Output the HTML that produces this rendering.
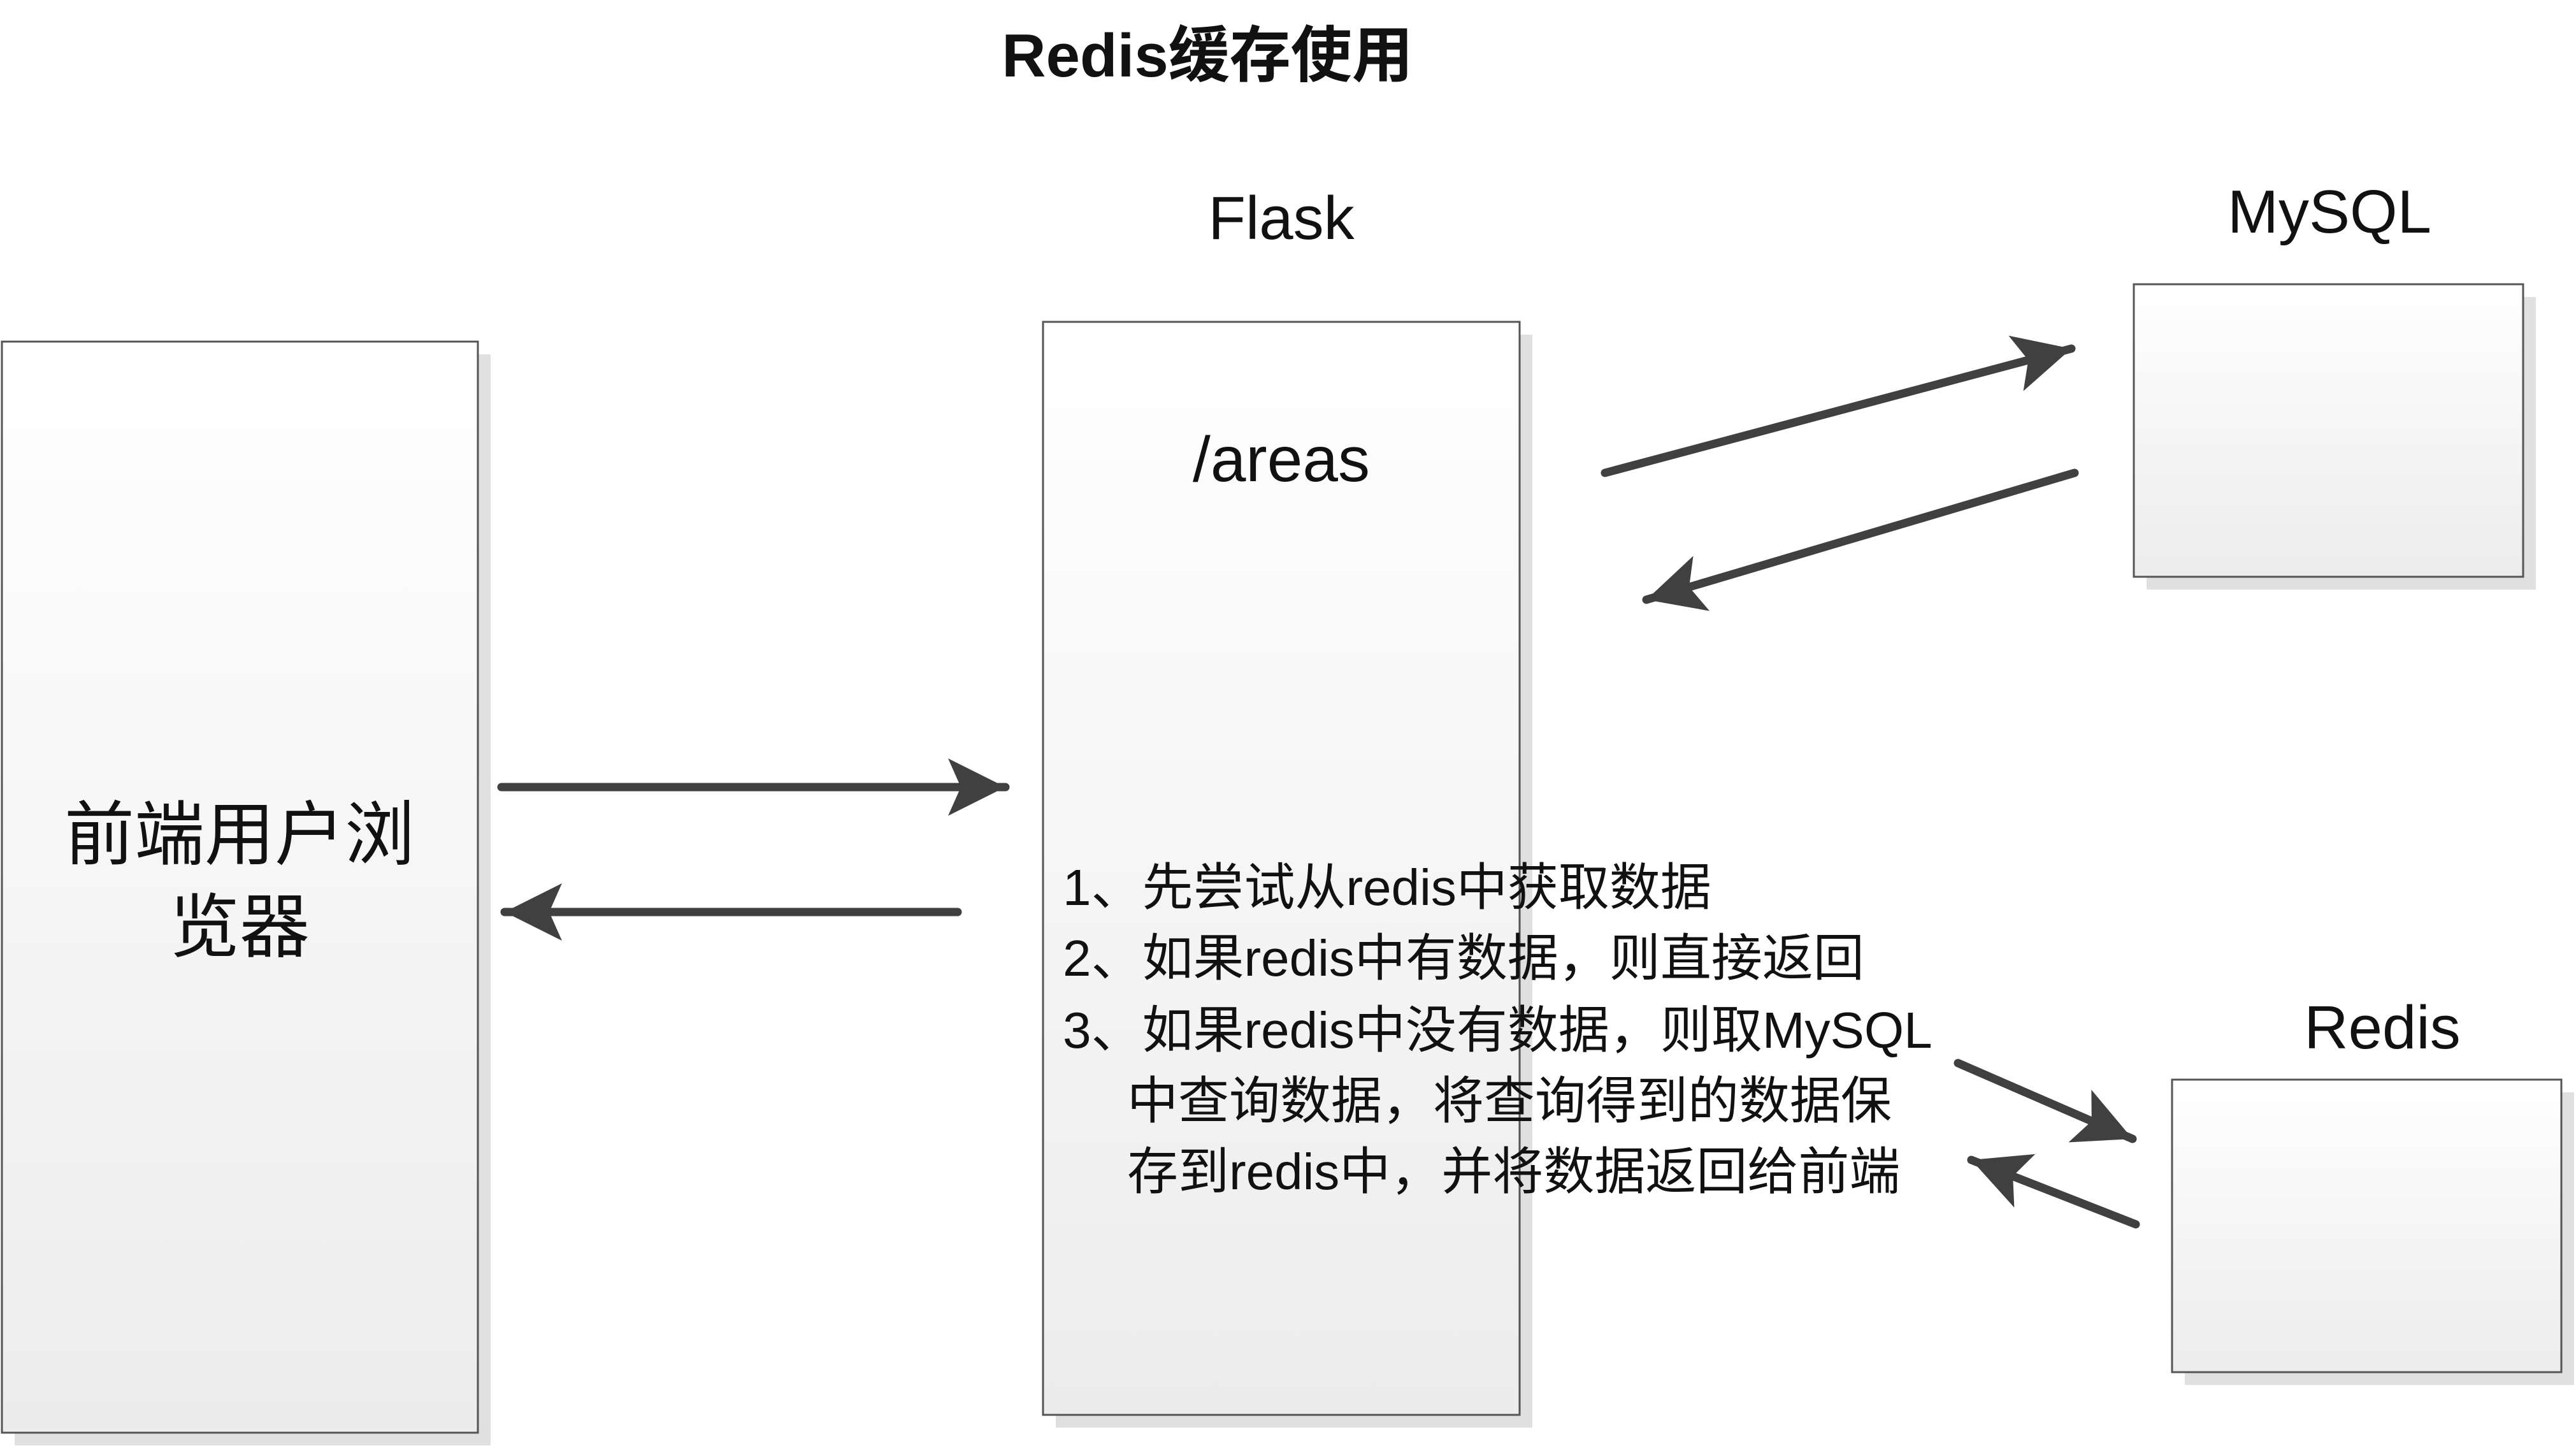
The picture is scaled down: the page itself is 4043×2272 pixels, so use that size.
<!DOCTYPE html>
<html><head><meta charset="utf-8"><style>
html,body{margin:0;padding:0;background:#fff;}
svg{display:block;}
text{font-family:"Liberation Sans","Noto Sans CJK SC",sans-serif;fill:#111;}
</style></head><body>
<svg width="4043" height="2272" viewBox="0 0 4043 2272" xmlns="http://www.w3.org/2000/svg">
<defs>
<linearGradient id="g" x1="0" y1="0" x2="0" y2="1">
<stop offset="0" stop-color="#ffffff"/><stop offset="1" stop-color="#ececec"/>
</linearGradient>
<marker id="ah" markerUnits="userSpaceOnUse" markerWidth="110" markerHeight="100" refX="90" refY="45" orient="auto">
<path d="M0,0 L90,45 L0,90 L20,45 Z" fill="#404040"/>
</marker>
</defs>
<text x="1895" y="120" font-size="96" font-weight="bold" text-anchor="middle">Redis缓存使用</text>
<rect x="23" y="556" width="747" height="1712" fill="#e0e0e0"/>
<rect x="1657" y="525" width="748" height="1715" fill="#e0e0e0"/>
<rect x="3369" y="466" width="611" height="459" fill="#e0e0e0"/>
<rect x="3429" y="1714" width="611" height="459" fill="#e0e0e0"/>
<rect x="3" y="536" width="747" height="1712" fill="url(#g)" stroke="#555" stroke-width="3"/>
<rect x="1637" y="505" width="748" height="1715" fill="url(#g)" stroke="#555" stroke-width="3"/>
<rect x="3349" y="446" width="611" height="459" fill="url(#g)" stroke="#555" stroke-width="3"/>
<rect x="3409" y="1694" width="611" height="459" fill="url(#g)" stroke="#555" stroke-width="3"/>
<text x="2011" y="375" font-size="96" text-anchor="middle">Flask</text>
<text x="3656" y="365" font-size="96" text-anchor="middle">MySQL</text>
<text x="3739" y="1645" font-size="96" text-anchor="middle">Redis</text>
<text x="2011" y="755" font-size="100" text-anchor="middle">/areas</text>
<text x="376" y="1348" font-size="110" text-anchor="middle">前端用户浏</text>
<text x="376" y="1493" font-size="110" text-anchor="middle">览器</text>
<g stroke="#404040" stroke-width="13" fill="none" stroke-linecap="round">
<line x1="787" y1="1235" x2="1578" y2="1235" marker-end="url(#ah)"/>
<line x1="1503" y1="1431" x2="792" y2="1431" marker-end="url(#ah)"/>
<line x1="2519" y1="742" x2="3251" y2="547" marker-end="url(#ah)"/>
<line x1="3256" y1="742" x2="2584" y2="941" marker-end="url(#ah)"/>
<line x1="3073" y1="1668" x2="3347" y2="1787" marker-end="url(#ah)"/>
<line x1="3352" y1="1921" x2="3094" y2="1820" marker-end="url(#ah)"/>
</g>
<g font-size="80">
<text x="1668" y="1420">1、先尝试从redis中获取数据</text>
<text x="1668" y="1531">2、如果redis中有数据，则直接返回</text>
<text x="1668" y="1644">3、如果redis中没有数据，则取MySQL</text>
<text x="1769" y="1755">中查询数据，将查询得到的数据保</text>
<text x="1769" y="1866">存到redis中，并将数据返回给前端</text>
</g>
</svg>
</body></html>
